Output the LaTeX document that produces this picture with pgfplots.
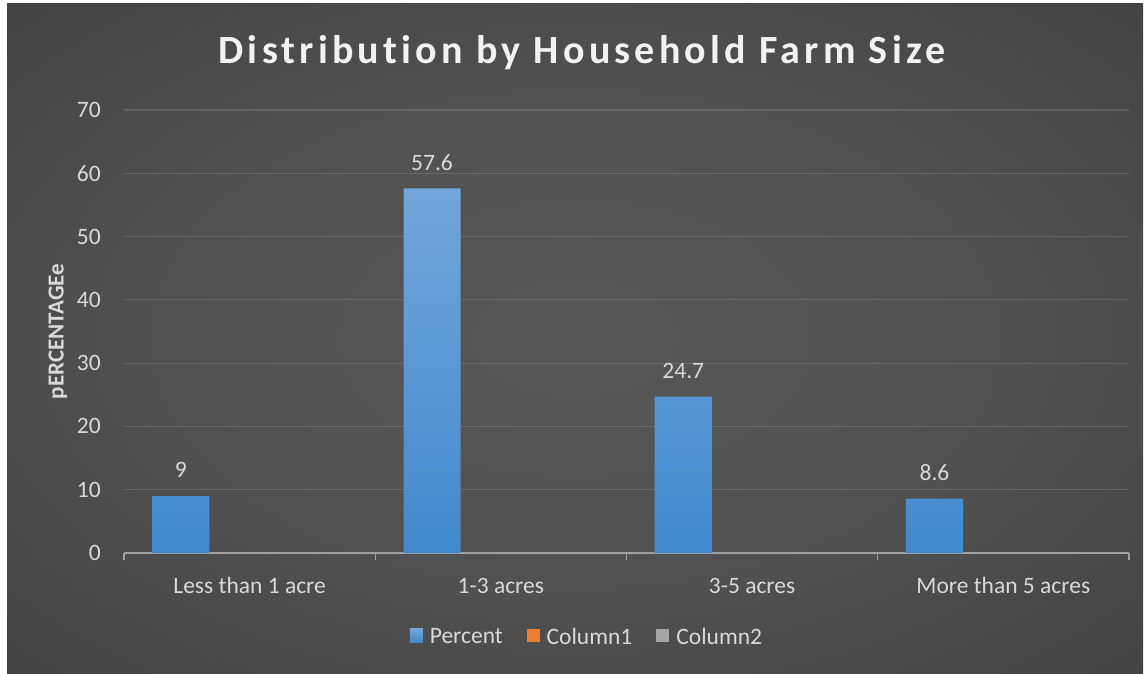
\documentclass[border=0pt]{standalone}
\usepackage{pgfplots}
\pgfplotsset{compat=1.18}
\usepackage{fontspec}
\setmainfont{Carlito}
\newfontfamily\titlefont[LetterSpace=10.5, Ligatures={NoCommon,NoRequired,NoContextual}]{Carlito}
\definecolor{bgin}{HTML}{575757}
\definecolor{bgmid}{HTML}{515151}
\definecolor{bgout}{HTML}{262626}
\definecolor{labelgray}{HTML}{D9D9D9}
\definecolor{axisgray}{HTML}{A0A0A0}
\definecolor{bartop}{HTML}{72A6DC}
\definecolor{barbot}{HTML}{4189CD}
\definecolor{barmid}{HTML}{5B9BD5}
\definecolor{orangec}{HTML}{ED7D31}
\definecolor{grayc}{HTML}{A5A5A5}
\pgfdeclareradialshading{chartbg}{\pgfpoint{0bp}{0bp}}{color(0bp)=(bgin); color(18bp)=(bgmid); color(72bp)=(bgout)}
\begin{document}
\begin{tikzpicture}
\fill[white] (0pt,0pt) rectangle (1145pt,673pt);
\shade[shading=chartbg] (7pt,0pt) rectangle (1143pt,669pt);
\node[anchor=base, text={rgb,255:red,242;green,242;blue,242}, inner sep=0pt] at (582pt,609pt) {\titlefont\bfseries\fontsize{40}{46}\selectfont Distribution by Household Farm Size};
\begin{axis}[
  at={(124pt,120pt)}, anchor=south west,
  width=1005pt, height=443pt, scale only axis,
  xmin=-0.5, xmax=3.5, ymin=0, ymax=70,
  xtick={-0.5,0.5,1.5,2.5,3.5},
  x tick label as interval,
  xticklabels={Less than 1 acre,1-3 acres,3-5 acres,More than 5 acres},
  ytick={0,10,...,70},
  ymajorgrids,
  grid style={white, opacity=0.13, line width=1.2pt},
  axis x line*=bottom, axis y line*=left,
  y axis line style={draw=none},
  x axis line style={draw=axisgray, line width=1.6pt},
  xtick style={draw=axisgray, line width=1.3pt},
  ytick style={draw=none},
  tick align=outside, major tick length=7pt,
  ticklabel style={font=\fontsize{23.5}{26}\selectfont, text=labelgray},
  /pgf/number format/assume math mode=true,
  yticklabel style={anchor=east, inner sep=0pt, xshift=-16pt},
  xticklabel style={anchor=base, inner sep=0pt, yshift=-33pt},
  ylabel={pERCENTAGEe},
  ylabel style={font=\bfseries\fontsize{23}{26}\selectfont, text=labelgray, at={(axis description cs:-0.0657,0.5)}, anchor=center},
  ybar, bar width=0.227,
  legend columns=3,
  legend style={at={(axis description cs:0.4607,-0.1896)}, anchor=center, draw=none, fill=none,
    font=\fontsize{23.5}{26}\selectfont, text=labelgray,
    /tikz/every odd column/.append style={column sep=5pt},
    /tikz/every even column/.append style={column sep=22pt}},
]
\addplot[draw=none, top color=bartop, bottom color=barbot, bar shift=-0.274,
  nodes near coords,
  every node near coord/.append style={inner sep=0pt, yshift=18pt, font=\fontsize{23.5}{26}\selectfont, text=labelgray},
  legend image code/.code={\fill[barmid] (0pt,-5pt) rectangle (13pt,8pt);}]
  coordinates {(0,9) (1,57.6) (2,24.7) (3,8.6)};
\addlegendentry{Percent}
\addplot[draw=none, fill=orangec, bar shift=0,
  legend image code/.code={\fill[orangec] (0pt,-5pt) rectangle (13pt,8pt);}]
  coordinates {(0,0) (1,0) (2,0) (3,0)};
\addlegendentry{Column1}
\addplot[draw=none, fill=grayc, bar shift=0.274,
  legend image code/.code={\fill[grayc] (0pt,-5pt) rectangle (13pt,8pt);}]
  coordinates {(0,0) (1,0) (2,0) (3,0)};
\addlegendentry{Column2}
\end{axis}
\end{tikzpicture}
\end{document}
